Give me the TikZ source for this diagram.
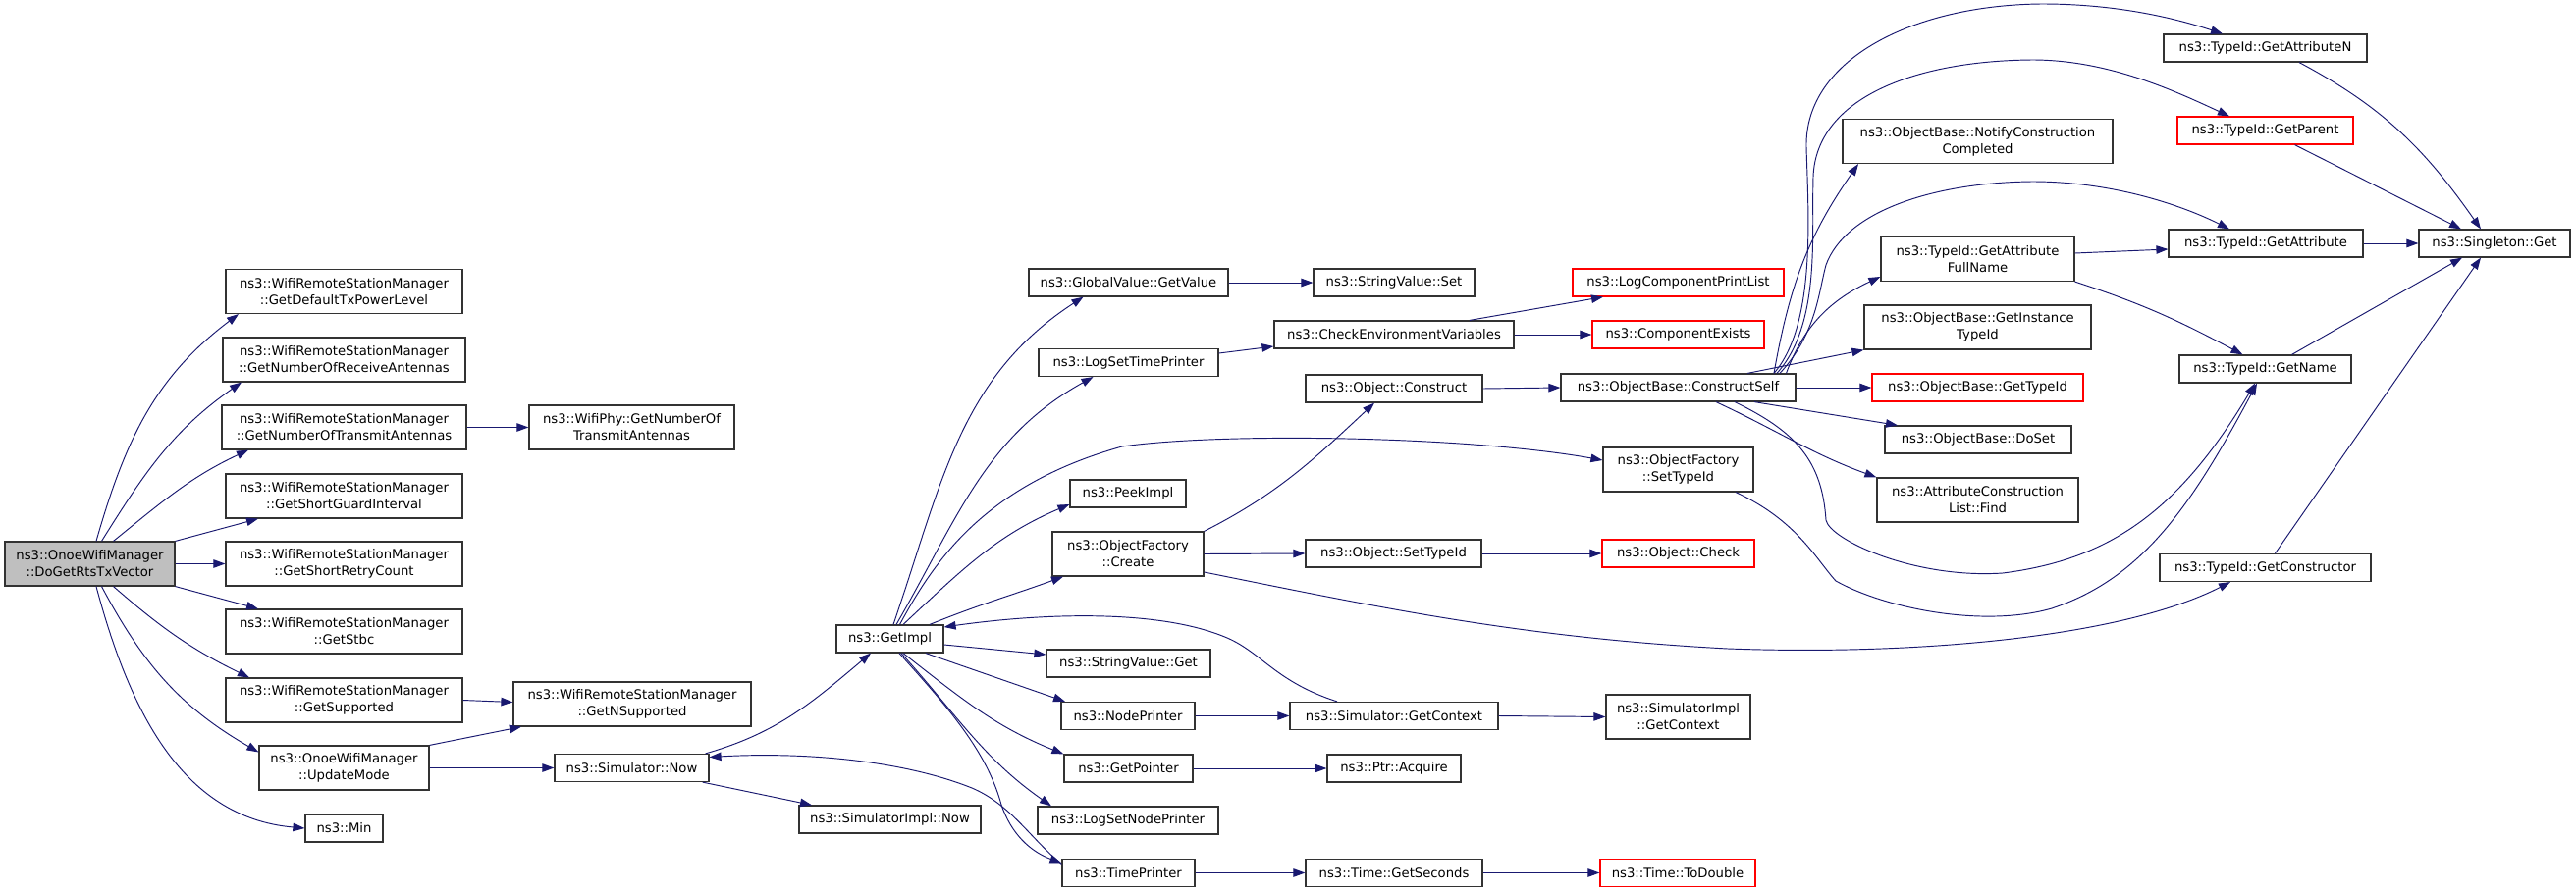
\documentclass[tikz,border=0pt]{standalone}
\usepackage{fontspec}
\setmainfont{DejaVu Sans}
\usetikzlibrary{arrows.meta}
\definecolor{edgec}{HTML}{191970}
\definecolor{boxline}{HTML}{333333}
\definecolor{redline}{HTML}{FF0000}
\definecolor{rootfill}{HTML}{BFBFBF}
\newcommand{\fsz}{\fontsize{13.2pt}{17pt}\selectfont}
\tikzset{
  box/.style={draw=boxline, line width=1.2pt, fill=white, inner sep=0pt, align=center, font=\fsz, minimum height=28pt},
  tall/.style={minimum height=45pt},
  redbox/.style={box, draw=redline},
  edg/.style={draw=edgec, line width=0.95pt, -{Triangle[length=12pt,width=8.5pt]}}
}
\begin{document}
\begin{tikzpicture}[x=1pt,y=-1pt]
\fill[white] (0,0) rectangle (2624,910);
\useasboundingbox (0,0) rectangle (2624,910);

% column 0/1
\node[box,tall,fill=rootfill,minimum width=173pt] (root) at (91.5,574.5) {ns3::OnoeWifiManager\\::DoGetRtsTxVector};
\node[box,tall,minimum width=241pt] (defTx) at (350.5,297) {ns3::WifiRemoteStationManager\\::GetDefaultTxPowerLevel};
\node[box,tall,minimum width=247pt] (recv) at (350.5,366.5) {ns3::WifiRemoteStationManager\\::GetNumberOfReceiveAntennas};
\node[box,tall,minimum width=249pt] (trans) at (350.5,435.5) {ns3::WifiRemoteStationManager\\::GetNumberOfTransmitAntennas};
\node[box,tall,minimum width=241pt] (guard) at (350.5,505.5) {ns3::WifiRemoteStationManager\\::GetShortGuardInterval};
\node[box,tall,minimum width=241pt] (retry) at (350.5,574.5) {ns3::WifiRemoteStationManager\\::GetShortRetryCount};
\node[box,tall,minimum width=241pt] (stbc) at (350.5,643.5) {ns3::WifiRemoteStationManager\\::GetStbc};
\node[box,tall,minimum width=241pt] (supp) at (350.5,713.5) {ns3::WifiRemoteStationManager\\::GetSupported};
\node[box,tall,minimum width=173pt] (upd) at (350.5,782.5) {ns3::OnoeWifiManager\\::UpdateMode};
\node[box,minimum width=79pt] (min) at (350.5,844) {ns3::Min};

% column 2
\node[box,tall,minimum width=209pt] (phy) at (643.5,435.5) {ns3::WifiPhy::GetNumberOf\\TransmitAntennas};
\node[box,tall,minimum width=242pt] (nsup) at (644,717.5) {ns3::WifiRemoteStationManager\\::GetNSupported};
\node[box,minimum width=157pt] (now) at (643.5,782.5) {ns3::Simulator::Now};

% column 3
\node[box,minimum width=109pt] (getimpl) at (906.5,651) {ns3::GetImpl};
\node[box,minimum width=185pt] (simnow) at (906.5,835) {ns3::SimulatorImpl::Now};

% column 4
\node[box,minimum width=203pt] (glob) at (1149.5,288) {ns3::GlobalValue::GetValue};
\node[box,minimum width=183pt] (logtime) at (1149.5,369.5) {ns3::LogSetTimePrinter};
\node[box,minimum width=118pt] (peek) at (1149,503) {ns3::PeekImpl};
\node[box,tall,minimum width=154pt] (ofcreate) at (1149,564.5) {ns3::ObjectFactory\\::Create};
\node[box,minimum width=167pt] (svget) at (1149.5,676) {ns3::StringValue::Get};
\node[box,minimum width=136pt] (nodep) at (1149,729.5) {ns3::NodePrinter};
\node[box,minimum width=131pt] (getptr) at (1149.5,783) {ns3::GetPointer};
\node[box,minimum width=184pt] (lognode) at (1149,836) {ns3::LogSetNodePrinter};
\node[box,minimum width=135pt] (timep) at (1149.5,889.5) {ns3::TimePrinter};

% column 5
\node[box,minimum width=164pt] (svset) at (1420,288) {ns3::StringValue::Set};
\node[box,minimum width=244pt] (checkenv) at (1420,341) {ns3::CheckEnvironmentVariables};
\node[box,minimum width=180pt] (construct) at (1420,396) {ns3::Object::Construct};
\node[box,minimum width=179pt] (settypeid) at (1419.5,564) {ns3::Object::SetTypeId};
\node[box,minimum width=212pt] (getctx) at (1420,729.5) {ns3::Simulator::GetContext};
\node[box,minimum width=136pt] (acquire) at (1420,783) {ns3::Ptr::Acquire};
\node[box,minimum width=180pt] (getsec) at (1420,889.5) {ns3::Time::GetSeconds};

% column 6
\node[redbox,minimum width=215pt] (logcomp) at (1709.5,288) {ns3::LogComponentPrintList};
\node[redbox,minimum width=175pt] (compex) at (1709.5,341) {ns3::ComponentExists};
\node[box,minimum width=239pt] (cself) at (1709.5,395) {ns3::ObjectBase::ConstructSelf};
\node[box,tall,minimum width=153pt] (ofset) at (1709.5,478.5) {ns3::ObjectFactory\\::SetTypeId};
\node[redbox,minimum width=155pt] (check) at (1709.5,564) {ns3::Object::Check};
\node[box,tall,minimum width=147pt] (simctx) at (1709.5,730.5) {ns3::SimulatorImpl\\::GetContext};
\node[redbox,minimum width=158pt] (todouble) at (1709,889.5) {ns3::Time::ToDouble};

% column 7
\node[box,tall,minimum width=275pt] (notify) at (2014.5,144) {ns3::ObjectBase::NotifyConstruction\\Completed};
\node[box,tall,minimum width=197pt] (fullname) at (2014.5,264) {ns3::TypeId::GetAttribute\\FullName};
\node[box,tall,minimum width=231pt] (instance) at (2014.5,333.5) {ns3::ObjectBase::GetInstance\\TypeId};
\node[redbox,minimum width=215pt] (gettypeid) at (2014.5,395) {ns3::ObjectBase::GetTypeId};
\node[box,minimum width=190pt] (doset) at (2015,448) {ns3::ObjectBase::DoSet};
\node[box,tall,minimum width=205pt] (find) at (2014.5,509.5) {ns3::AttributeConstruction\\List::Find};

% column 8
\node[box,minimum width=207pt] (attrN) at (2307.5,49) {ns3::TypeId::GetAttributeN};
\node[redbox,minimum width=179pt] (parent) at (2307.5,133) {ns3::TypeId::GetParent};
\node[box,minimum width=198pt] (getattr) at (2308,248) {ns3::TypeId::GetAttribute};
\node[box,minimum width=175pt] (getname) at (2307.5,376) {ns3::TypeId::GetName};
\node[box,minimum width=215pt] (getctor) at (2307.5,578.5) {ns3::TypeId::GetConstructor};

% column 9
\node[box,minimum width=154pt] (singleton) at (2541,248) {ns3::Singleton::Get};

% ---- edges from root
\draw[edg] ([xshift=6.5pt]root.north) to[out=74,in=217] ([xshift=-107.5pt]defTx.south);
\draw[edg] ([xshift=12pt]root.north) to[out=58,in=215] ([xshift=-104.5pt]recv.south);
\draw[edg] ([xshift=24pt]root.north) to[out=39,in=205] ([xshift=-97.5pt]trans.south);
\draw[edg] (root.north east) -- ([xshift=-87.5pt]guard.south);
\draw[edg] (root.east) -- (retry.west);
\draw[edg] (root.south east) -- ([xshift=-87.5pt]stbc.north);
\draw[edg] ([xshift=24pt]root.south) to[out=-41,in=154] ([xshift=-96.5pt]supp.north);
\draw[edg] ([xshift=12pt]root.south) to[out=-62,in=150] ([yshift=16pt]upd.west);
\draw[edg] ([xshift=6.5pt]root.south) to[out=-75,in=175] (min.west);

\draw[edg] (trans.east) -- (phy.west);
\draw[edg] (supp.east) -- ([yshift=2pt]nsup.west);
\draw[edg] (upd.north east) -- ([xshift=-113pt]nsup.south);
\draw[edg] (upd.east) -- (now.west);

% ---- Simulator::Now
\draw[edg] ([xshift=-4pt]now.north east) to[out=16,in=220] ([xshift=-19.5pt]getimpl.south);
\draw[edg] ([xshift=-7pt]now.south east) -- ([xshift=-79.5pt]simnow.north);
\draw[edg] ([yshift=9pt]timep.west) .. controls (1050,855) and (1030,820) .. (990,803)
   .. controls (920,775) and (820,766) .. ([yshift=11pt]now.east);

% ---- GetImpl
\draw[edg] ([xshift=3.5pt]getimpl.north) to[out=71,in=213] ([xshift=-46pt]glob.south);
\draw[edg] ([xshift=6.5pt]getimpl.north) to[out=60,in=209] ([xshift=-36pt]logtime.south);
\draw[edg] ([xshift=10pt]getimpl.north) .. controls (950,575) and (1000,495) .. (1143,455)
   .. controls (1250,440) and (1500,445) .. ([yshift=9.5pt]ofset.west);
\draw[edg] ([xshift=13.5pt]getimpl.north) to[out=43,in=203] ([yshift=-11pt]peek.west);
\draw[edg] ([xshift=40.5pt]getimpl.north) to[out=22,in=200] ([xshift=-66pt]ofcreate.south);
\draw[edg] ([yshift=-6pt]getimpl.east) -- ([yshift=9pt]svget.west);
\draw[edg] ([xshift=36.5pt]getimpl.south) -- ([xshift=-64pt]nodep.north);
\draw[edg] ([xshift=13.5pt]getimpl.south) to[out=-38,in=158] (getptr.north west);
\draw[edg] ([xshift=11.5pt]getimpl.south) to[out=-48,in=145] ([xshift=-78pt]lognode.north);
\draw[edg] ([xshift=9.5pt]getimpl.south) .. controls (965,720) and (1005,765) .. (1020,820)
   .. controls (1030,850) and (1050,868) .. ([yshift=10pt]timep.west);
\draw[edg] ([xshift=-58pt]getctx.north) .. controls (1300,695) and (1285,665) .. (1250,650)
   .. controls (1180,620) and (1060,625) .. ([yshift=12pt]getimpl.east);

% ---- column 4 -> 5
\draw[edg] (glob.east) -- (svset.west);
\draw[edg] ([yshift=9.5pt]logtime.east) -- ([yshift=-12pt]checkenv.west);
\draw[edg] (ofcreate.north east) to[out=27,in=223] ([xshift=-20pt]construct.south);
\draw[edg] (ofcreate.east) -- (settypeid.west);
\draw[edg] ([yshift=-18.5pt]ofcreate.east) .. controls (1400,618) and (1550,650) .. (1760,661)
   .. controls (1950,668) and (2160,650) .. ([xshift=-35.5pt]getctor.south);
\draw[edg] (nodep.east) -- (getctx.west);
\draw[edg] (getptr.east) -- (acquire.west);
\draw[edg] (timep.east) -- (getsec.west);

% ---- column 5 -> 6
\draw[edg] ([xshift=77pt]checkenv.north) -- ([xshift=-76.5pt]logcomp.south);
\draw[edg] (checkenv.east) -- (compex.west);
\draw[edg] (construct.east) -- (cself.west);
\draw[edg] (settypeid.east) -- (check.west);
\draw[edg] (getctx.east) -- (simctx.west);
\draw[edg] (getsec.east) -- (todouble.west);

% ---- ConstructSelf
\draw[edg] ([xshift=97.5pt]cself.north) .. controls (1850,330) and (1842,220) .. (1840,150)
   .. controls (1838,60) and (1950,5) .. (2080,4)
   .. controls (2160,4) and (2220,20) .. ([xshift=-43.5pt]attrN.north);
\draw[edg] ([xshift=100.5pt]cself.north) .. controls (1855,330) and (1845,240) .. (1847,180)
   .. controls (1850,100) and (1950,62) .. (2070,61)
   .. controls (2150,61) and (2220,95) .. ([xshift=-36.5pt]parent.north);
\draw[edg] ([xshift=103.5pt]cself.north) .. controls (1850,340) and (1852,300) .. (1860,270)
   .. controls (1880,215) and (1970,186) .. (2070,185)
   .. controls (2150,185) and (2220,208) .. ([xshift=-37pt]getattr.north);
\draw[edg] ([xshift=97.5pt]cself.north) to[out=80,in=235] ([xshift=-121.5pt]notify.south);
\draw[edg] ([xshift=110pt]cself.north) to[out=70,in=205] ([yshift=-18pt]fullname.west);
\draw[edg] ([xshift=70.5pt]cself.north) -- (instance.south west);
\draw[edg] (cself.east) -- (gettypeid.west);
\draw[edg] ([xshift=77.5pt]cself.south) -- ([xshift=-82pt]doset.north);
\draw[edg] ([xshift=38.5pt]cself.south) to[out=-25,in=160] (find.north west);
\draw[edg] ([xshift=57.5pt]cself.south) .. controls (1830,440) and (1856,470) .. (1860,530)
   .. controls (1864,550) and (1950,590) .. (2040,584)
   .. controls (2150,570) and (2220,520) .. ([xshift=-10.5pt]getname.south);
\draw[edg] ([xshift=58.5pt]ofset.south) .. controls (1830,530) and (1850,570) .. (1870,592)
   .. controls (1920,620) and (2020,640) .. (2090,620)
   .. controls (2180,590) and (2230,520) .. ([xshift=-8.5pt]getname.south);

% ---- TypeId
\draw[edg] ([yshift=6pt]fullname.east) -- ([yshift=-6pt]getattr.west);
\draw[edg] (fullname.south east) to[out=-18,in=152] ([xshift=-23pt]getname.north);
\draw[edg] ([xshift=34.5pt]attrN.south) to[out=-28,in=125] ([xshift=-14pt]singleton.north);
\draw[edg] ([xshift=30pt]parent.south) -- ([xshift=-34pt]singleton.north);
\draw[edg] (getattr.east) -- (singleton.west);
\draw[edg] ([xshift=27pt]getname.north) -- ([xshift=-33pt]singleton.south);
\draw[edg] ([xshift=10pt]getctor.north) -- ([xshift=-14pt]singleton.south);
\end{tikzpicture}
\end{document}
